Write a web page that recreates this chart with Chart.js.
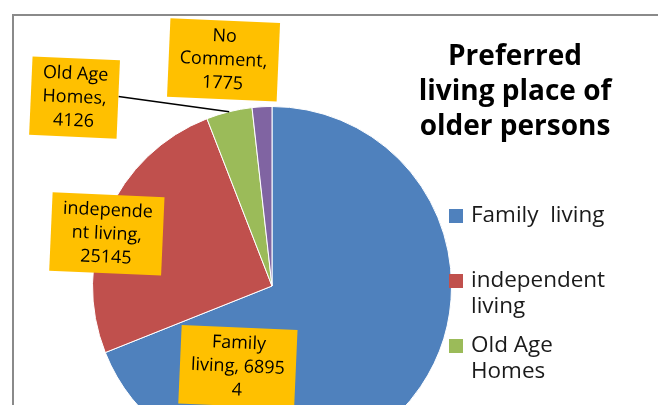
<!DOCTYPE html>
<html>
<head>
<meta charset="UTF-8">
<title>Preferred living place of older persons</title>
<style>
  html, body { margin: 0; padding: 0; background: #fff; overflow: hidden; }
  #wrap { position: absolute; left: 0; top: 0; width: 658px; height: 560px; }
</style>
<script src="https://cdn.jsdelivr.net/npm/chart.js"></script>
</head>
<body>
<div id="wrap"><canvas id="pie" width="658" height="560"></canvas></div>
<script>
const categories = ['Family  living', 'independent living', 'Old Age Homes', 'No Comment'];
const values = [68954, 25145, 4126, 1775];
const colors = ['#4F81BD', '#C0504D', '#9BBB59', '#8064A2'];
const titleLines = ['Preferred', 'living place of', 'older persons'];

// where each data label box sits, as offsets from the pie centre in radius units
const labelOffsets = [[-0.19, 0.45], [-0.92, -0.29], [-1.10, -1.05], [-0.27, -1.26]];
// character positions where the Excel-style label text wraps
const labelBreaks = [[6, 19], [9, 19], [7, 14], [2, 11]];

const FONT = '"Open Sans", Lato, sans-serif';

function splitAt(str, idx) {
  const out = [];
  let prev = 0;
  idx.forEach(i => { out.push(str.slice(prev, i).trim()); prev = i; });
  out.push(str.slice(prev).trim());
  return out.filter(s => s.length);
}

function wrapText(ctx, text, maxW) {
  const words = text.split(' ');
  const lines = [];
  let cur = '';
  words.forEach(w => {
    const test = cur ? cur + ' ' + w : w;
    if (cur && ctx.measureText(test).width > maxW) { lines.push(cur); cur = w; }
    else cur = test;
  });
  if (cur) lines.push(cur);
  return lines;
}

// text drawn a little wider than the font, like the stretched original
function wideText(ctx, str, x, y, sx) {
  ctx.save();
  ctx.translate(x, y);
  ctx.scale(sx, 1);
  ctx.fillText(str, 0, 0);
  ctx.restore();
}

const extras = {
  id: 'extras',
  afterDraw(chart) {
    const ctx = chart.ctx;
    const arcs = chart.getDatasetMeta(0).data;
    ctx.save();

    // outer frame
    ctx.strokeStyle = '#8a8a8a';
    ctx.lineWidth = 2;
    ctx.beginPath();
    ctx.moveTo(13, 600); ctx.lineTo(13, 15); ctx.lineTo(700, 15);
    ctx.stroke();

    // title
    ctx.fillStyle = '#000';
    ctx.font = 'bold 28px ' + FONT;
    ctx.textAlign = 'center';
    ctx.textBaseline = 'alphabetic';
    titleLines.forEach((t, i) => ctx.fillText(t, 515, 65 + i * 35));

    // legend (entries that do not fit are dropped, as Excel does)
    ctx.font = '21px ' + FONT;
    ctx.textAlign = 'left';
    ctx.textBaseline = 'middle';
    categories.forEach((c, i) => {
      const y = 216 + i * 65;
      if (y + 10 > 405) return;
      ctx.fillStyle = colors[i];
      ctx.fillRect(449, y - 7, 14, 14);
      ctx.fillStyle = '#1a1a1a';
      wrapText(ctx, c, 130).forEach((ln, j) => wideText(ctx, ln, 471, y + j * 26, 1.07));
    });

    // leader line for Old Age Homes
    const a = arcs[2];
    const mid = (a.startAngle + a.endAngle) / 2;
    const bx = a.x + labelOffsets[2][0] * a.outerRadius;
    const by = a.y + labelOffsets[2][1] * a.outerRadius;
    ctx.strokeStyle = '#000';
    ctx.lineWidth = 1.5;
    ctx.beginPath();
    ctx.moveTo(a.x + Math.cos(mid) * a.outerRadius, a.y + Math.sin(mid) * a.outerRadius);
    ctx.lineTo(bx + 44, by - 1);
    ctx.stroke();

    // data labels
    ctx.font = '18px ' + FONT;
    ctx.textAlign = 'center';
    arcs.forEach((arc, i) => {
      const cx = arc.x + labelOffsets[i][0] * arc.outerRadius;
      const cy = arc.y + labelOffsets[i][1] * arc.outerRadius;
      const text = categories[i].replace(/\s+/g, ' ') + ', ' + values[i];
      const lines = splitAt(text, labelBreaks[i]);
      const w = Math.max(...lines.map(l => ctx.measureText(l).width)) + 22;
      const lh = 23.5;
      const h = lines.length * lh + 8;
      ctx.save();
      ctx.translate(cx, cy);
      ctx.rotate(2.5 * Math.PI / 180);
      ctx.fillStyle = '#FFC000';
      ctx.fillRect(-w / 2, -h / 2, w, h);
      ctx.fillStyle = '#000';
      lines.forEach((ln, j) => ctx.fillText(ln, 0, -((lines.length - 1) * lh) / 2 + j * lh));
      ctx.restore();
    });

    ctx.restore();
  }
};

new Chart(document.getElementById('pie'), {
  type: 'pie',
  data: {
    labels: categories,
    datasets: [{
      data: values,
      backgroundColor: colors,
      borderColor: '#ffffff',
      borderWidth: 1
    }]
  },
  options: {
    responsive: false,
    animation: false,
    devicePixelRatio: 1,
    layout: { padding: { left: 92, top: 106, right: 206, bottom: 94 } },
    plugins: {
      legend: { display: false },
      title: { display: false },
      tooltip: { enabled: false }
    }
  },
  plugins: [extras]
});
</script>
</body>
</html>
